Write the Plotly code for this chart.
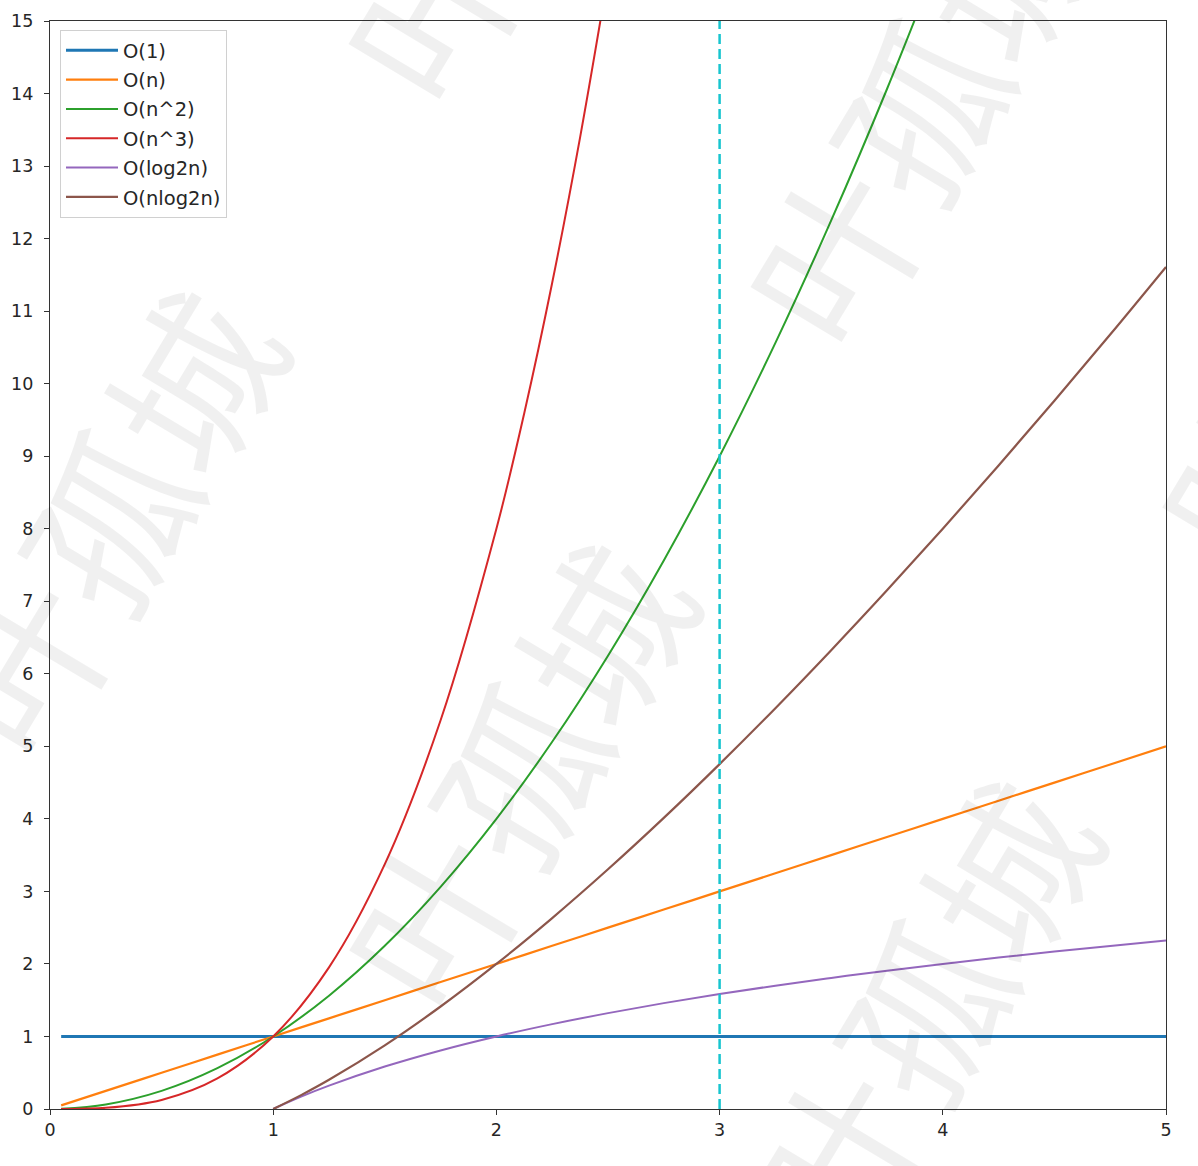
import plotly.graph_objects as go

# ---------------- data ----------------
x_poly = [0.05, 0.25, 0.5, 0.75, 1.0, 1.25, 1.5, 1.75, 2.0, 2.25, 2.5, 2.75, 3.0,
          3.25, 3.5, 3.75, 4.0, 4.25, 4.5, 4.75, 5.0]
y_const = [1, 1, 1, 1, 1, 1, 1, 1, 1, 1, 1, 1, 1, 1, 1, 1, 1, 1, 1, 1, 1]
y_lin = [0.05, 0.25, 0.5, 0.75, 1.0, 1.25, 1.5, 1.75, 2.0, 2.25, 2.5, 2.75, 3.0,
         3.25, 3.5, 3.75, 4.0, 4.25, 4.5, 4.75, 5.0]

x_sq = [0.05, 0.25, 0.5, 0.75, 1.0, 1.25, 1.5, 1.75, 2.0, 2.25, 2.5, 2.75, 3.0,
        3.25, 3.5, 3.75, 4.0]
y_sq = [0.0025, 0.0625, 0.25, 0.5625, 1.0, 1.5625, 2.25, 3.0625, 4.0, 5.0625, 6.25,
        7.5625, 9.0, 10.5625, 12.25, 14.0625, 16.0]

x_cube = [0.05, 0.25, 0.5, 0.75, 1.0, 1.25, 1.5, 1.75, 2.0, 2.125, 2.25, 2.375, 2.5]
y_cube = [0.0001, 0.0156, 0.125, 0.4219, 1.0, 1.9531, 3.375, 5.3594, 8.0, 9.5957,
          11.3906, 13.3965, 15.625]

x_log = [1.0, 1.125, 1.25, 1.5, 1.75, 2.0, 2.25, 2.5, 2.75, 3.0, 3.25, 3.5, 3.75,
         4.0, 4.25, 4.5, 4.75, 5.0]
y_log = [0.0, 0.1699, 0.3219, 0.585, 0.8074, 1.0, 1.17, 1.3219, 1.4594, 1.585,
         1.7004, 1.8074, 1.9069, 2.0, 2.0875, 2.1699, 2.2479, 2.3219]
y_nlog = [0.0, 0.1912, 0.4024, 0.8774, 1.413, 2.0, 2.6325, 3.3048, 4.0134, 4.755,
          5.5263, 6.3259, 7.1509, 8.0, 8.8719, 9.7646, 10.6775, 11.6096]

x_marker = [3, 3]
y_marker = [0, 15]

x_ticks = [0, 1, 2, 3, 4, 5]
y_ticks = list(range(0, 16))

names = ["O(1)", "O(n)", "O(n^2)", "O(n^3)", "O(log2n)", "O(nlog2n)"]
colors = ["#1f77b4", "#ff7f0e", "#2ca02c", "#d62728", "#9467bd", "#8c564b"]

watermark_text = "叶孤城"

# ---------------- figure ----------------
W, H = 1198, 1166
L, R, T, B = 50, 32, 21, 57

fig = go.Figure()
series = [
    (x_poly, y_const, 3.0),
    (x_poly, y_lin, 2.2),
    (x_sq, y_sq, 2.0),
    (x_cube, y_cube, 2.0),
    (x_log, y_log, 2.0),
    (x_log, y_nlog, 2.2),
]
for i, (xs, ys, w) in enumerate(series):
    fig.add_trace(go.Scatter(
        x=xs, y=ys, mode="lines", name=names[i],
        line=dict(color=colors[i], width=w, shape="spline", smoothing=1.0),
        legendgroup=names[i],
    ))

fig.add_trace(go.Scatter(
    x=x_marker, y=y_marker, mode="lines", showlegend=False,
    line=dict(color="#17c5cf", width=2.5, dash="10px,5px"),
))

axis_common = dict(
    showline=True, linecolor="#333333", linewidth=1.3, mirror=True,
    ticks="outside", ticklen=5, tickwidth=1.2, tickcolor="#333333",
    showgrid=False, zeroline=False,
    tickfont=dict(family="DejaVu Sans", size=17.5, color="#262626"),
)
fig.update_xaxes(range=[0, 5], tickvals=x_ticks, **axis_common)
fig.update_yaxes(range=[0, 15], tickvals=y_ticks, ticklabelstandoff=7, **axis_common)

pw, ph = W - L - R, H - T - B


def px2paper(px, py):
    return (px - L) / pw, (H - B - py) / ph


# watermark centres in pixels
wm_centres = [(103, 520), (513, 773), (915, 110), (513, -133), (918, 1010), (1326, 330)]
annotations = []
for (cx, cy) in wm_centres:
    ax, ay = px2paper(cx, cy)
    annotations.append(dict(
        x=ax, y=ay, xref="paper", yref="paper", text=watermark_text,
        showarrow=False, textangle=-59, xanchor="center", yanchor="middle",
        font=dict(family="Noto Sans CJK SC", size=166, color="rgba(0,0,0,0.06)"),
    ))

lx, ly = px2paper(60, 30)
fig.update_layout(
    width=W, height=H,
    margin=dict(l=L, r=R, t=T, b=B, pad=0),
    paper_bgcolor="white", plot_bgcolor="white",
    font=dict(family="DejaVu Sans", size=17, color="#262626"),
    legend=dict(
        x=lx, y=ly, xanchor="left", yanchor="top",
        bgcolor="rgba(255,255,255,0.85)", bordercolor="#d0d0d0", borderwidth=1,
        font=dict(family="DejaVu Sans", size=19.5, color="#262626"),
        tracegroupgap=1, itemwidth=52,
    ),
    annotations=annotations,
    showlegend=True,
)

fig.write_html(
    "out.html",
    config={"displayModeBar": False},
    post_script="document.body.style.margin='0';document.body.style.overflow='hidden';",
)
